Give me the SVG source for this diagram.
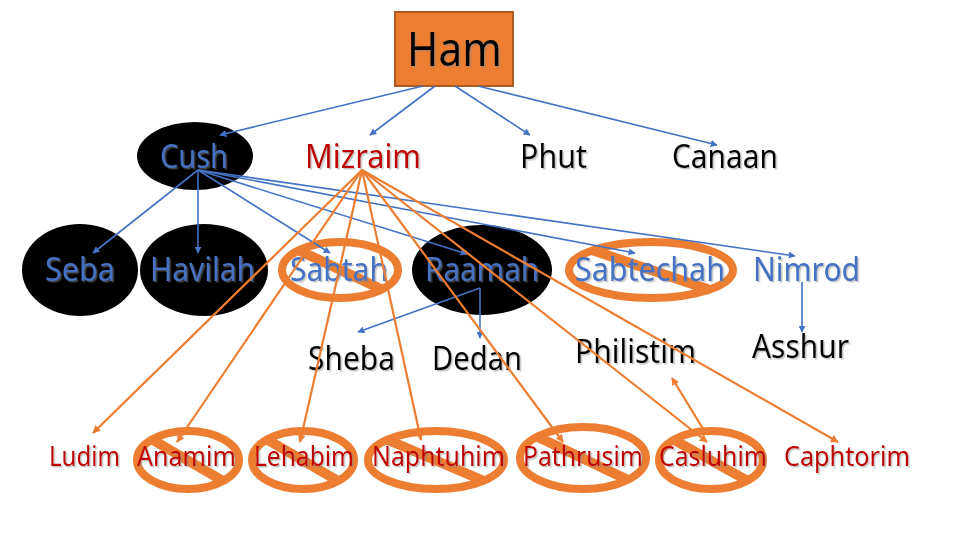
<svg xmlns="http://www.w3.org/2000/svg" width="960" height="540" viewBox="0 0 960 540">
<defs>
<marker id="ab" viewBox="0 0 10 10" refX="9" refY="5" markerWidth="7" markerHeight="7" markerUnits="userSpaceOnUse" orient="auto"><path d="M0,0 L10,5 L0,10 z" fill="#4472C4"/></marker>
<marker id="ao" viewBox="0 0 10 10" refX="9" refY="5" markerWidth="8" markerHeight="8" markerUnits="userSpaceOnUse" orient="auto"><path d="M0,0 L10,5 L0,10 z" fill="#ED7D31"/></marker>
<filter id="sh" x="-10%" y="-20%" width="130%" height="150%"><feDropShadow dx="1.5" dy="1.5" stdDeviation="0.6" flood-color="#888" flood-opacity="0.5"/></filter>
</defs>
<style>
text{font-family:"Noto Sans","Open Sans","Liberation Sans",sans-serif;filter:url(#sh)}
.t1{font-size:32px}
.t4{font-size:27px}
.blue{fill:#4472C4}
.red{fill:#C00000}
.blk{fill:#000}
.oval{fill:#000}
.ring{fill:none;stroke:#ED7D31;stroke-width:8}
.bar{stroke:#ED7D31;stroke-width:10}
.cb{stroke:#4472C4;stroke-width:1.6;fill:none;marker-end:url(#ab)}
.co{stroke:#ED7D31;stroke-width:2.2;fill:none;marker-end:url(#ao)}
</style>
<rect width="960" height="540" fill="#fff"/>

<g id="ham">
<rect x="395" y="12" width="118" height="74" fill="#ED7D31" stroke="#AE5A21" stroke-width="2"/>
<text x="407" y="66" font-size="47" class="blk" textLength="95" lengthAdjust="spacingAndGlyphs">Ham</text>
</g>

<g id="cush">
<ellipse class="oval" cx="195" cy="156" rx="58" ry="34"/>
<text x="160" y="168" class="t1 blue" textLength="68" lengthAdjust="spacingAndGlyphs">Cush</text>
</g>
<g id="mizraim"><text x="305" y="168" class="t1 red" textLength="116" lengthAdjust="spacingAndGlyphs">Mizraim</text></g>
<g id="phut"><text x="520" y="168" class="t1 blk" textLength="67" lengthAdjust="spacingAndGlyphs">Phut</text></g>
<g id="canaan"><text x="672" y="168" class="t1 blk" textLength="106" lengthAdjust="spacingAndGlyphs">Canaan</text></g>

<g id="seba">
<ellipse class="oval" cx="80" cy="270" rx="58" ry="46"/>
<text x="45" y="281" class="t1 blue" textLength="70" lengthAdjust="spacingAndGlyphs">Seba</text>
</g>
<g id="havilah">
<ellipse class="oval" cx="204" cy="270" rx="64" ry="46"/>
<text x="150" y="281" class="t1 blue" textLength="105" lengthAdjust="spacingAndGlyphs">Havilah</text>
</g>
<g id="sabtah">
<ellipse class="ring" cx="340" cy="270" rx="58" ry="28"/>
<line class="bar" x1="298" y1="250" x2="383" y2="290"/>
<text x="290" y="281" class="t1 blue" textLength="98" lengthAdjust="spacingAndGlyphs">Sabtah</text>
</g>
<g id="raamah">
<ellipse class="oval" cx="482" cy="270" rx="70" ry="45"/>
<text x="425" y="281" class="t1 blue" textLength="114" lengthAdjust="spacingAndGlyphs">Raamah</text>
</g>
<g id="sabtechah">
<ellipse class="ring" cx="651" cy="270" rx="82" ry="28"/>
<line class="bar" x1="592" y1="250" x2="710" y2="290"/>
<text x="575" y="281" class="t1 blue" textLength="150" lengthAdjust="spacingAndGlyphs">Sabtechah</text>
</g>
<g id="nimrod"><text x="753" y="281" class="t1 blue" textLength="107" lengthAdjust="spacingAndGlyphs">Nimrod</text></g>

<g id="sheba"><text x="308" y="370" class="t1 blk" textLength="87" lengthAdjust="spacingAndGlyphs">Sheba</text></g>
<g id="dedan"><text x="432" y="370" class="t1 blk" textLength="90" lengthAdjust="spacingAndGlyphs">Dedan</text></g>
<g id="philistim"><text x="575" y="363" class="t1 blk" textLength="121" lengthAdjust="spacingAndGlyphs">Philistim</text></g>
<g id="asshur"><text x="752" y="358" class="t1 blk" textLength="97" lengthAdjust="spacingAndGlyphs">Asshur</text></g>

<g id="ludim"><text x="49" y="466" class="t4 red" textLength="71" lengthAdjust="spacingAndGlyphs">Ludim</text></g>
<g id="anamim">
<ellipse class="ring" cx="188" cy="460" rx="51" ry="29"/>
<line class="bar" x1="153" y1="440" x2="223" y2="481"/>
<text x="137" y="466" class="t4 red" textLength="99" lengthAdjust="spacingAndGlyphs">Anamim</text>
</g>
<g id="lehabim">
<ellipse class="ring" cx="303" cy="460" rx="51" ry="29"/>
<line class="bar" x1="268" y1="440" x2="338" y2="481"/>
<text x="254" y="466" class="t4 red" textLength="100" lengthAdjust="spacingAndGlyphs">Lehabim</text>
</g>
<g id="naphtuhim">
<ellipse class="ring" cx="436" cy="460" rx="68" ry="29"/>
<line class="bar" x1="388" y1="440" x2="484" y2="481"/>
<text x="372" y="466" class="t4 red" textLength="133" lengthAdjust="spacingAndGlyphs">Naphtuhim</text>
</g>
<g id="pathrusim">
<ellipse class="ring" cx="583" cy="458" rx="63" ry="31"/>
<line class="bar" x1="538" y1="437" x2="628" y2="480"/>
<text x="523" y="466" class="t4 red" textLength="120" lengthAdjust="spacingAndGlyphs">Pathrusim</text>
</g>
<g id="casluhim">
<ellipse class="ring" cx="711" cy="460" rx="52" ry="29"/>
<line class="bar" x1="674" y1="440" x2="748" y2="481"/>
<text x="659" y="466" class="t4 red" textLength="108" lengthAdjust="spacingAndGlyphs">Casluhim</text>
</g>
<g id="caphtorim"><text x="784" y="466" class="t4 red" textLength="126" lengthAdjust="spacingAndGlyphs">Caphtorim</text></g>

<g id="connectors">
<line class="cb" x1="423" y1="86" x2="220" y2="135"/>
<line class="cb" x1="435" y1="86" x2="370" y2="135"/>
<line class="cb" x1="455" y1="86" x2="530" y2="135"/>
<line class="cb" x1="478" y1="86" x2="717" y2="145"/>
<line class="cb" x1="198" y1="170" x2="93" y2="253"/>
<line class="cb" x1="198" y1="170" x2="198" y2="253"/>
<line class="cb" x1="198" y1="170" x2="330" y2="253"/>
<line class="cb" x1="198" y1="170" x2="467" y2="254"/>
<line class="cb" x1="198" y1="170" x2="635" y2="253"/>
<line class="cb" x1="198" y1="170" x2="795" y2="256"/>
<line class="cb" x1="480" y1="288" x2="358" y2="332"/>
<line class="cb" x1="480" y1="288" x2="480" y2="338"/>
<line class="cb" x1="802" y1="282" x2="802" y2="332"/>
<line class="co" x1="362" y1="170" x2="93" y2="433"/>
<line class="co" x1="362" y1="170" x2="177" y2="442"/>
<line class="co" x1="362" y1="170" x2="300" y2="442"/>
<line class="co" x1="362" y1="170" x2="421" y2="440"/>
<line class="co" x1="362" y1="170" x2="563" y2="442"/>
<line class="co" x1="362" y1="170" x2="707" y2="442"/>
<line class="co" x1="362" y1="170" x2="838" y2="442"/>
<line class="co" x1="705" y1="432" x2="672" y2="378"/>
</g>
</svg>
